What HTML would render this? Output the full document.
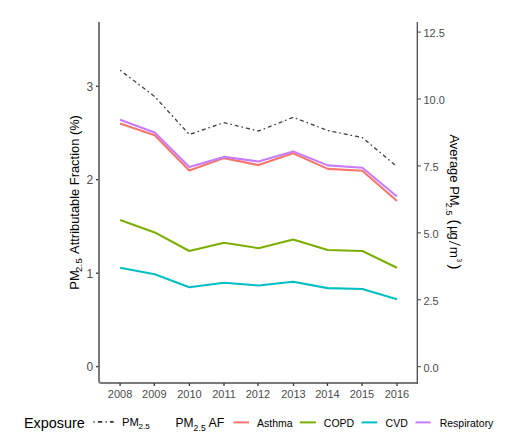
<!DOCTYPE html><html><head><meta charset="utf-8"><style>html,body{margin:0;padding:0;background:#fff;}svg{display:block;}</style></head><body><svg width="517" height="445" viewBox="0 0 517 445">
<rect width="517" height="445" fill="#fff"/>
<path d="M99,22 V380.5 Q99,383 101.5,383 H418" fill="none" stroke="#7a7a7a" stroke-width="2" stroke-linejoin="round"/>
<path d="M417.3,383.5 V22" fill="none" stroke="#4a4a4a" stroke-width="1.3"/>
<line x1="96" x2="98.5" y1="366.6" y2="366.6" stroke="#444" stroke-width="1.4"/>
<text x="93.2" y="371.20000000000005" font-family="'Liberation Sans', sans-serif" font-size="12" fill="#4d4d4d" text-anchor="end">0</text>
<line x1="96" x2="98.5" y1="273.2" y2="273.2" stroke="#444" stroke-width="1.4"/>
<text x="93.2" y="277.8" font-family="'Liberation Sans', sans-serif" font-size="12" fill="#4d4d4d" text-anchor="end">1</text>
<line x1="96" x2="98.5" y1="179.7" y2="179.7" stroke="#444" stroke-width="1.4"/>
<text x="93.2" y="184.29999999999998" font-family="'Liberation Sans', sans-serif" font-size="12" fill="#4d4d4d" text-anchor="end">2</text>
<line x1="96" x2="98.5" y1="86.3" y2="86.3" stroke="#444" stroke-width="1.4"/>
<text x="93.2" y="90.89999999999999" font-family="'Liberation Sans', sans-serif" font-size="12" fill="#4d4d4d" text-anchor="end">3</text>
<line x1="417.5" x2="420.8" y1="366.6" y2="366.6" stroke="#555" stroke-width="1.2"/>
<text x="423.4" y="371.6" font-family="'Liberation Sans', sans-serif" font-size="11" fill="#4d4d4d">0.0</text>
<line x1="417.5" x2="420.8" y1="299.7" y2="299.7" stroke="#555" stroke-width="1.2"/>
<text x="423.4" y="304.7" font-family="'Liberation Sans', sans-serif" font-size="11" fill="#4d4d4d">2.5</text>
<line x1="417.5" x2="420.8" y1="232.8" y2="232.8" stroke="#555" stroke-width="1.2"/>
<text x="423.4" y="237.8" font-family="'Liberation Sans', sans-serif" font-size="11" fill="#4d4d4d">5.0</text>
<line x1="417.5" x2="420.8" y1="165.9" y2="165.9" stroke="#555" stroke-width="1.2"/>
<text x="423.4" y="170.9" font-family="'Liberation Sans', sans-serif" font-size="11" fill="#4d4d4d">7.5</text>
<line x1="417.5" x2="420.8" y1="99.0" y2="99.0" stroke="#555" stroke-width="1.2"/>
<text x="423.4" y="104.0" font-family="'Liberation Sans', sans-serif" font-size="11" fill="#4d4d4d">10.0</text>
<line x1="417.5" x2="420.8" y1="32.1" y2="32.1" stroke="#555" stroke-width="1.2"/>
<text x="423.4" y="37.1" font-family="'Liberation Sans', sans-serif" font-size="11" fill="#4d4d4d">12.5</text>
<line x1="120.1" x2="120.1" y1="383" y2="386" stroke="#444" stroke-width="1.4"/>
<text x="120.1" y="398.4" font-family="'Liberation Sans', sans-serif" font-size="11" fill="#4d4d4d" text-anchor="middle">2008</text>
<line x1="154.3" x2="154.3" y1="383" y2="386" stroke="#444" stroke-width="1.4"/>
<text x="154.3" y="398.4" font-family="'Liberation Sans', sans-serif" font-size="11" fill="#4d4d4d" text-anchor="middle">2009</text>
<line x1="189.4" x2="189.4" y1="383" y2="386" stroke="#444" stroke-width="1.4"/>
<text x="189.4" y="398.4" font-family="'Liberation Sans', sans-serif" font-size="11" fill="#4d4d4d" text-anchor="middle">2010</text>
<line x1="224" x2="224" y1="383" y2="386" stroke="#444" stroke-width="1.4"/>
<text x="224" y="398.4" font-family="'Liberation Sans', sans-serif" font-size="11" fill="#4d4d4d" text-anchor="middle">2011</text>
<line x1="257.9" x2="257.9" y1="383" y2="386" stroke="#444" stroke-width="1.4"/>
<text x="257.9" y="398.4" font-family="'Liberation Sans', sans-serif" font-size="11" fill="#4d4d4d" text-anchor="middle">2012</text>
<line x1="293.5" x2="293.5" y1="383" y2="386" stroke="#444" stroke-width="1.4"/>
<text x="293.5" y="398.4" font-family="'Liberation Sans', sans-serif" font-size="11" fill="#4d4d4d" text-anchor="middle">2013</text>
<line x1="327.4" x2="327.4" y1="383" y2="386" stroke="#444" stroke-width="1.4"/>
<text x="327.4" y="398.4" font-family="'Liberation Sans', sans-serif" font-size="11" fill="#4d4d4d" text-anchor="middle">2014</text>
<line x1="362" x2="362" y1="383" y2="386" stroke="#444" stroke-width="1.4"/>
<text x="362" y="398.4" font-family="'Liberation Sans', sans-serif" font-size="11" fill="#4d4d4d" text-anchor="middle">2015</text>
<line x1="397" x2="397" y1="383" y2="386" stroke="#444" stroke-width="1.4"/>
<text x="397" y="398.4" font-family="'Liberation Sans', sans-serif" font-size="11" fill="#4d4d4d" text-anchor="middle">2016</text>
<polyline points="120.10,70.20 154.71,96.50 189.32,134.50 223.93,122.60 258.54,131.00 293.15,117.30 327.76,130.50 362.37,137.60 396.98,166.60" fill="none" stroke="#444" stroke-width="1.35" stroke-linecap="round" stroke-dasharray="0.5 4.1 2.9 4.0" stroke-dashoffset="-0.6"/>
<polyline points="120.10,123.50 154.71,135.20 189.32,170.40 223.93,158.10 258.54,165.10 293.15,153.30 327.76,168.90 362.37,170.80 396.98,201.00" fill="none" stroke="#F8766D" stroke-width="2.1" stroke-linejoin="round"/>
<polyline points="120.10,220.10 154.71,232.40 189.32,251.00 223.93,242.80 258.54,248.20 293.15,239.50 327.76,250.00 362.37,251.05 396.98,267.70" fill="none" stroke="#7CAE00" stroke-width="2.1" stroke-linejoin="round"/>
<polyline points="120.10,267.70 154.71,274.30 189.32,287.30 223.93,282.70 258.54,285.50 293.15,281.70 327.76,288.10 362.37,289.00 396.98,299.30" fill="none" stroke="#00BFC4" stroke-width="2.1" stroke-linejoin="round"/>
<polyline points="120.10,119.80 154.71,132.50 189.32,167.00 223.93,156.90 258.54,161.50 293.15,151.40 327.76,165.40 362.37,167.80 396.98,196.50" fill="none" stroke="#C77CFF" stroke-width="2.1" stroke-linejoin="round"/>
<g transform="translate(78.6,289.7) rotate(-90)" font-family="'Liberation Sans', sans-serif" fill="#000"><text x="0" y="0" font-size="13">PM</text><text x="17.6" y="3.4" font-size="9.5" letter-spacing="0.3">2.5</text><text x="35.8" y="0" font-size="12.88">Attributable Fraction (%)</text></g>
<g transform="translate(450.3,0) rotate(90)" font-family="'Liberation Sans', sans-serif" fill="#000"><text x="134.4" y="0" font-size="13">Average PM</text><text x="202.7" y="3.8" font-size="9" letter-spacing="0.2">2.5</text><text x="219.6" y="0.5" font-size="15">(</text><text x="226" y="0" font-size="13">µ</text><text x="232.4" y="0" font-size="13">g</text><text x="246.8" y="0" font-size="13.5">m</text><text x="258.6" y="-7.2" font-size="6.5">3</text><text x="264.5" y="0.5" font-size="15">)</text></g>
<line x1="449" y1="241.2" x2="460.5" y2="245.5" stroke="#000" stroke-width="0.9"/>
<text x="24" y="428.2" font-family="'Liberation Sans', sans-serif" font-size="14.4" fill="#000">Exposure</text>
<line x1="93.5" x2="113.6" y1="421.9" y2="421.9" stroke="#333" stroke-width="1.6" stroke-dasharray="1.1 3.3 4.4 3.3"/>
<text x="122" y="426.3" font-family="'Liberation Sans', sans-serif" font-size="11.2" fill="#000">PM</text><text x="138.6" y="428.7" font-family="'Liberation Sans', sans-serif" font-size="8" fill="#000">2.5</text>
<text x="175.5" y="426.8" font-family="'Liberation Sans', sans-serif" font-size="12" fill="#000">PM</text><text x="193.4" y="430.5" font-family="'Liberation Sans', sans-serif" font-size="8.5" letter-spacing="0.3" fill="#000">2.5</text><text x="208.5" y="427.2" font-family="'Liberation Sans', sans-serif" font-size="12.3" fill="#000">AF</text>
<line x1="233.5" x2="249" y1="422.4" y2="422.4" stroke="#F8766D" stroke-width="2"/>
<text x="257" y="427.3" font-family="'Liberation Sans', sans-serif" font-size="10.5" fill="#000">Asthma</text>
<line x1="299.8" x2="315.9" y1="422.4" y2="422.4" stroke="#7CAE00" stroke-width="2"/>
<text x="323.8" y="427.3" font-family="'Liberation Sans', sans-serif" font-size="10.5" fill="#000">COPD</text>
<line x1="361.7" x2="377.2" y1="422.4" y2="422.4" stroke="#00BFC4" stroke-width="2"/>
<text x="385.6" y="427.3" font-family="'Liberation Sans', sans-serif" font-size="10.5" fill="#000">CVD</text>
<line x1="415.5" x2="430.6" y1="422.4" y2="422.4" stroke="#C77CFF" stroke-width="2"/>
<text x="439.7" y="427.3" font-family="'Liberation Sans', sans-serif" font-size="10.5" fill="#000">Respiratory</text>
</svg></body></html>
